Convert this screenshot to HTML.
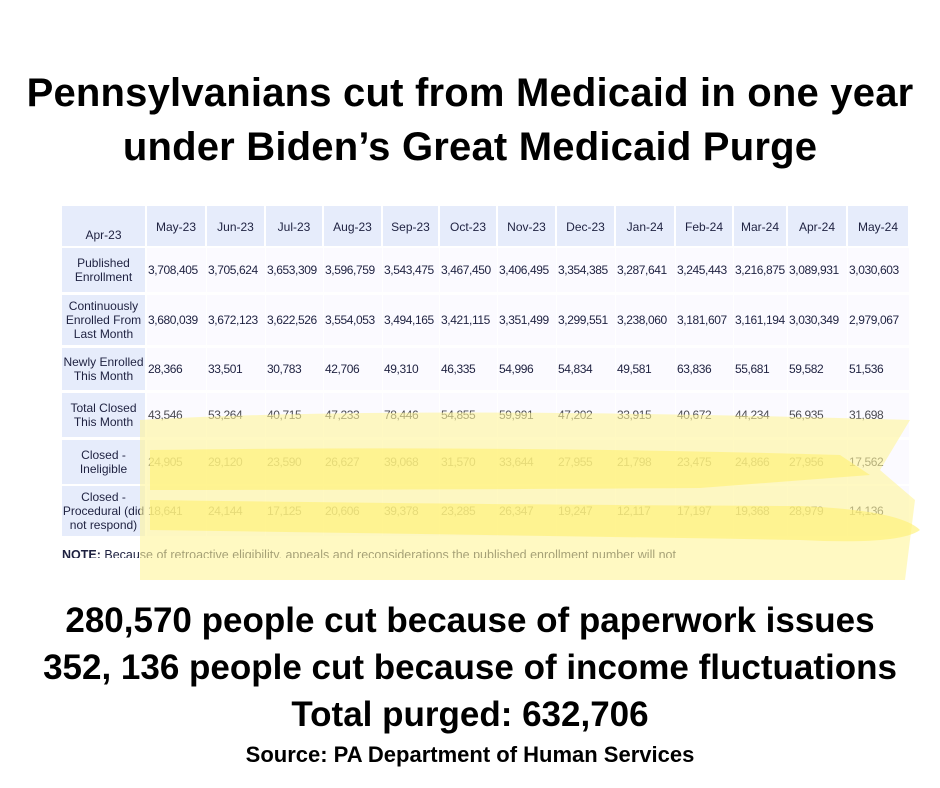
<!DOCTYPE html>
<html><head><style>
body{margin:0;width:940px;height:788px;background:#fff;position:relative;overflow:hidden;font-family:"Liberation Sans",sans-serif}
.t{position:absolute;left:0;width:940px;text-align:center;font-weight:bold;color:#000}
.c{position:absolute;font-size:12px;color:#1e2140;display:flex;align-items:center;line-height:14px;white-space:nowrap}
.h{background:#e6ecfb;justify-content:center;text-align:center;white-space:normal}
.d{background:#fbfaff;padding-left:1px;letter-spacing:-0.4px}
.b{text-shadow:0 0 3px #fff,0 0 2px #fff,1px 1px 0 #fff,-1px -1px 0 #fff}
</style></head><body>
<div class="t" style="top:66px;font-size:40px;line-height:54px;letter-spacing:0.2px">Pennsylvanians cut from Medicaid in one year<br>under Biden’s Great Medicaid Purge</div>
<div id="tb"></div>
<div style="position:absolute;left:62px;top:548px;font-size:12.5px;color:#1e2140;height:10px;overflow:hidden;width:670px;white-space:nowrap"><b>NOTE:</b> Because of retroactive eligibility, appeals and reconsiderations the published enrollment number will not</div>
<svg style="position:absolute;left:0;top:0" width="940" height="788">
<path d="M140 420 Q400 405 910 420 L880 470 L915 500 L905 580 L140 580 Z" fill="#fff59a" opacity="0.6"/>
<path d="M150 450 Q500 445 840 455 L870 475 L700 488 Q400 490 150 490 Z" fill="#fff176" opacity="0.65"/>
<path d="M150 500 Q500 505 800 506 Q900 510 920 530 Q900 545 800 540 Q500 535 150 530 Z" fill="#fff176" opacity="0.65"/>
</svg>
<div class="t b" style="top:597px;font-size:35px;line-height:47px">280,570 people cut because of paperwork issues<br>352, 136 people cut because of income fluctuations<br>Total purged: 632,706</div>
<div class="t b" style="top:742px;font-size:22px">Source: PA Department of Human Services</div>
<script>
var xs=[[62,145],[147,205],[207,264],[266,322],[324,381],[383,438],[440,496],[498,555],[557,614],[616,674],[676,732],[734,786],[788,846],[848,908]];
var ys=[[206,246],[248,292],[295,345],[348,390],[393,437],[440,484],[486,536]];
var rows=[["Apr-23","May-23","Jun-23","Jul-23","Aug-23","Sep-23","Oct-23","Nov-23","Dec-23","Jan-24","Feb-24","Mar-24","Apr-24","May-24"],
["Published<br>Enrollment","3,708,405","3,705,624","3,653,309","3,596,759","3,543,475","3,467,450","3,406,495","3,354,385","3,287,641","3,245,443","3,216,875","3,089,931","3,030,603"],
["Continuously<br>Enrolled From<br>Last Month","3,680,039","3,672,123","3,622,526","3,554,053","3,494,165","3,421,115","3,351,499","3,299,551","3,238,060","3,181,607","3,161,194","3,030,349","2,979,067"],
["Newly Enrolled<br>This Month","28,366","33,501","30,783","42,706","49,310","46,335","54,996","54,834","49,581","63,836","55,681","59,582","51,536"],
["Total Closed<br>This Month","43,546","53,264","40,715","47,233","78,446","54,855","59,991","47,202","33,915","40,672","44,234","56,935","31,698"],
["Closed -<br>Ineligible","24,905","29,120","23,590","26,627","39,068","31,570","33,644","27,955","21,798","23,475","24,866","27,956","17,562"],
["Closed -<br>Procedural (did<br>not respond)","18,641","24,144","17,125","20,606","39,378","23,285","26,347","19,247","12,117","17,197","19,368","28,979","14,136"]];
var h="";
for(var r=0;r<7;r++)for(var c=0;c<14;c++){var x=xs[c],y=ys[r];var cls=(r==0||c==0)?"h":"d";
var extra=(r==0&&c==0)?"align-items:flex-end;padding-bottom:4px;box-sizing:border-box;":(r==0?"align-items:flex-start;padding-top:14px;box-sizing:border-box;":"");
var col=(r>=4&&c>0)?"color:#4a4a50;":"";
h+='<div class="c '+cls+'" style="left:'+x[0]+'px;top:'+y[0]+'px;width:'+(x[1]-x[0])+'px;height:'+(y[1]-y[0])+'px;'+extra+col+'">'+rows[r][c]+'</div>';}
document.getElementById("tb").innerHTML=h;
</script>
</body></html>
